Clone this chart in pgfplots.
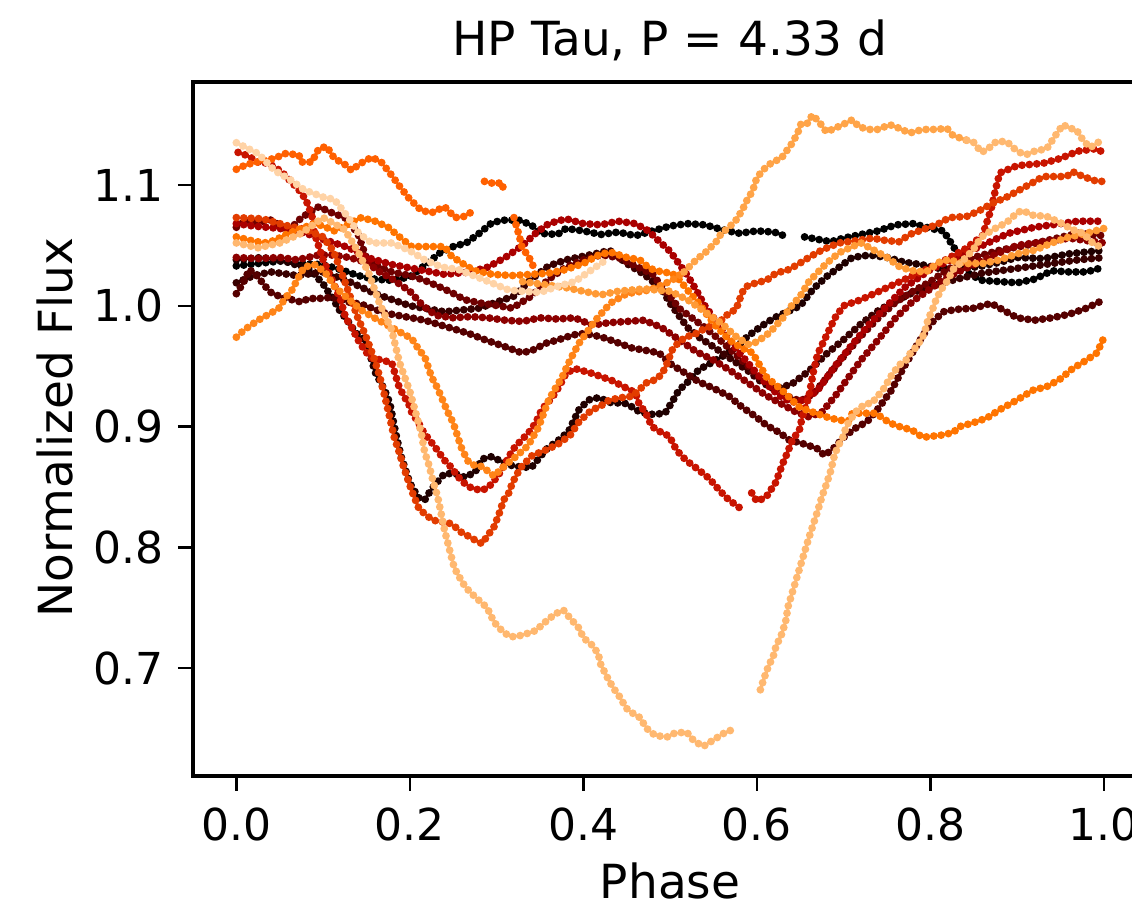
\documentclass[border=0pt]{standalone}
\usepackage{fontspec}
\setmainfont{DejaVu Sans}
\usepackage{pgfplots}
\pgfplotsset{compat=1.18}
\definecolor{k0}{HTML}{000000}
\definecolor{k1}{HTML}{1F0000}
\definecolor{k2}{HTML}{380000}
\definecolor{k3}{HTML}{550000}
\definecolor{k4}{HTML}{6E0000}
\definecolor{k5}{HTML}{8C0000}
\definecolor{k6}{HTML}{AA0000}
\definecolor{k7}{HTML}{C81400}
\definecolor{k8}{HTML}{E23C00}
\definecolor{k9}{HTML}{FF6000}
\definecolor{k10}{HTML}{FF7400}
\definecolor{k11}{HTML}{FF8418}
\definecolor{k12}{HTML}{FF9A35}
\definecolor{k13}{HTML}{FFA448}
\definecolor{k14}{HTML}{FFB870}
\definecolor{k15}{HTML}{FFD3A6}
\pgfplotsset{dots/.style={no marks, line width=3.9pt, line cap=round, dash pattern=on 0pt off 3.7pt}}
\begin{document}
\begin{tikzpicture}
\begin{axis}[
  at={(0,0)}, anchor=south west,
  scale only axis, width=477.15pt, height=347pt,
  xmin=-0.05, xmax=1.05, ymin=0.6106, ymax=1.1853,
  unbounded coords=jump,
  axis line style={line width=1.6pt},
  tick align=outside, xtick pos=left, ytick pos=left,
  major tick length=7.5pt,
  tick style={line width=1.25pt, black},
  xtick={0,0.2,0.4,0.6,0.8,1.0}, xticklabels={0.0,0.2,0.4,0.6,0.8,1.0},
  ytick={0.7,0.8,0.9,1.0,1.1}, yticklabels={0.7,0.8,0.9,1.0,1.1},
  xticklabel style={anchor=north, inner sep=0pt, yshift=-8pt, font=\fontsize{22}{26}\selectfont},
  yticklabel style={anchor=east, inner sep=0pt, xshift=-7pt, font=\fontsize{22}{26}\selectfont},
  title={HP Tau, P = 4.33 d},
  title style={at={(axis description cs:0.5,1.0202)}, anchor=base, inner sep=0pt, font=\fontsize{23.5}{28}\selectfont},
  xlabel={Phase},
  xlabel style={at={(axis description cs:0.5,-0.1760)}, anchor=base, inner sep=0pt, font=\fontsize{23.5}{28}\selectfont},
  ylabel={Normalized Flux},
  ylabel style={at={(axis description cs:-0.1446,0.502)}, anchor=center, inner sep=0pt, font=\fontsize{23.5}{28}\selectfont},
]
% black flat
\addplot[dots, color=k0] coordinates {(0,1.033)(0.025,1.035)(0.05,1.037)(0.075,1.035)(0.1,1.034)(0.12,1.03)(0.14,1.025)(0.16,1.022)(0.18,1.021)(0.2,1.024)(0.22,1.035)(0.235,1.044)(0.25,1.049)(0.265,1.052)(0.28,1.060)(0.295,1.069)(0.31,1.071)(0.325,1.071)(0.34,1.067)(0.35,1.060)(0.37,1.059)(0.38,1.064)(0.4,1.062)(0.42,1.059)(0.44,1.061)(0.46,1.058)(0.48,1.062)(0.5,1.066)(0.52,1.068)(0.54,1.067)(0.56,1.063)(0.58,1.060)(0.6,1.062)(0.62,1.061)(0.635,1.057)(0.645,nan)(0.655,1.057)(0.67,1.055)(0.685,1.053)(0.7,1.056)(0.72,1.059)(0.74,1.062)(0.76,1.067)(0.78,1.068)(0.8,1.064)(0.815,1.062)(0.83,1.045)(0.845,1.026)(0.86,1.021)(0.88,1.020)(0.9,1.019)(0.92,1.022)(0.94,1.029)(0.96,1.028)(0.98,1.028)(1.0,1.032)};
% dip dark
\addplot[dots, color=k1] coordinates {(0,1.038)(0.03,1.040)(0.06,1.036)(0.085,1.030)(0.1,1.018)(0.112,1.005)(0.12,0.995)(0.128,0.988)(0.137,0.978)(0.147,0.972)(0.153,0.962)(0.16,0.945)(0.171,0.930)(0.177,0.919)(0.181,0.904)(0.185,0.890)(0.19,0.875)(0.2,0.853)(0.21,0.841)(0.217,0.839)(0.223,0.846)(0.229,0.852)(0.24,0.861)(0.252,0.861)(0.263,0.858)(0.275,0.862)(0.283,0.873)(0.294,0.875)(0.309,0.870)(0.32,0.867)(0.34,0.866)(0.357,0.881)(0.372,0.889)(0.383,0.896)(0.395,0.914)(0.406,0.922)(0.418,0.924)(0.43,0.920)(0.45,0.919)(0.465,0.912)(0.48,0.910)(0.494,0.911)(0.502,0.920)(0.51,0.930)(0.522,0.938)(0.533,0.947)(0.548,0.953)(0.56,0.958)(0.575,0.965)(0.59,0.975)(0.605,0.983)(0.62,0.990)(0.635,0.995)(0.65,1.000)(0.665,1.014)(0.68,1.024)(0.695,1.032)(0.71,1.040)(0.73,1.042)(0.75,1.040)(0.77,1.036)(0.79,1.034)(0.81,1.031)(0.83,1.030)(0.86,1.033)(0.88,1.036)(0.9,1.040)(0.93,1.039)(0.96,1.043)(1.0,1.046)};
\addplot[dots, color=k2] coordinates {(0,1.019)(0.02,1.025)(0.04,1.028)(0.07,1.025)(0.1,1.028)(0.13,1.020)(0.16,1.010)(0.2,1.000)(0.24,0.995)(0.28,0.998)(0.32,1.008)(0.34,1.022)(0.36,1.033)(0.38,1.038)(0.4,1.041)(0.42,1.044)(0.43,1.046)(0.45,1.035)(0.47,1.026)(0.49,1.014)(0.5,1.002)(0.51,0.992)(0.52,0.982)(0.535,0.973)(0.55,0.966)(0.57,0.956)(0.59,0.946)(0.605,0.937)(0.62,0.931)(0.64,0.935)(0.66,0.946)(0.68,0.960)(0.7,0.972)(0.72,0.985)(0.74,0.996)(0.76,1.004)(0.78,1.011)(0.8,1.016)(0.83,1.022)(0.86,1.027)(0.9,1.031)(0.94,1.035)(0.97,1.038)(1.0,1.040)};
\addplot[dots, color=k3] coordinates {(0,1.010)(0.008,1.019)(0.015,1.030)(0.025,1.024)(0.032,1.017)(0.04,1.011)(0.052,1.007)(0.064,1.005)(0.075,1.003)(0.083,1.006)(0.095,1.006)(0.11,1.007)(0.13,1.003)(0.145,1.001)(0.171,0.994)(0.194,0.991)(0.217,0.988)(0.245,0.982)(0.268,0.977)(0.286,0.972)(0.31,0.966)(0.329,0.961)(0.341,0.963)(0.357,0.969)(0.372,0.972)(0.38,0.974)(0.395,0.977)(0.41,0.976)(0.426,0.973)(0.441,0.969)(0.456,0.965)(0.472,0.963)(0.487,0.961)(0.502,0.951)(0.518,0.944)(0.533,0.937)(0.549,0.932)(0.568,0.925)(0.583,0.916)(0.599,0.908)(0.611,0.901)(0.626,0.895)(0.637,0.889)(0.652,0.886)(0.669,0.882)(0.678,0.876)(0.69,0.883)(0.7,0.891)(0.712,0.898)(0.727,0.904)(0.74,0.915)(0.755,0.930)(0.77,0.950)(0.785,0.968)(0.8,0.985)(0.815,0.995)(0.83,0.997)(0.85,0.998)(0.87,1.002)(0.88,0.998)(0.9,0.990)(0.92,0.988)(0.94,0.990)(0.96,0.993)(0.98,0.998)(1.0,1.005)};
\addplot[dots, color=k4] coordinates {(0,1.065)(0.012,1.071)(0.025,1.069)(0.04,1.071)(0.06,1.062)(0.075,1.073)(0.095,1.082)(0.11,1.077)(0.125,1.073)(0.14,1.060)(0.149,1.041)(0.163,1.033)(0.179,1.028)(0.2,1.025)(0.217,1.021)(0.233,1.016)(0.248,1.011)(0.263,1.005)(0.283,1.002)(0.302,1.000)(0.318,0.998)(0.34,1.008)(0.36,1.022)(0.38,1.032)(0.4,1.038)(0.42,1.042)(0.44,1.040)(0.46,1.033)(0.48,1.026)(0.49,1.016)(0.502,1.006)(0.51,0.998)(0.525,0.990)(0.54,0.982)(0.56,0.970)(0.575,0.960)(0.59,0.950)(0.6,0.942)(0.62,0.932)(0.635,0.925)(0.65,0.921)(0.665,0.927)(0.68,0.940)(0.7,0.958)(0.72,0.975)(0.74,0.990)(0.76,1.003)(0.78,1.012)(0.8,1.020)(0.82,1.030)(0.85,1.040)(0.88,1.046)(0.91,1.050)(0.94,1.055)(0.97,1.060)(1.0,1.058)};
\addplot[dots, color=k5] coordinates {(0,1.040)(0.025,1.039)(0.05,1.040)(0.07,1.038)(0.095,1.042)(0.11,1.042)(0.13,1.040)(0.15,1.036)(0.165,1.028)(0.18,1.022)(0.2,1.012)(0.215,1.000)(0.23,0.992)(0.25,0.990)(0.27,0.991)(0.29,0.990)(0.31,0.988)(0.33,0.987)(0.35,0.990)(0.37,0.989)(0.39,0.990)(0.41,0.984)(0.43,0.986)(0.45,0.987)(0.47,0.988)(0.49,0.982)(0.51,0.972)(0.53,0.962)(0.55,0.955)(0.57,0.946)(0.59,0.936)(0.61,0.926)(0.63,0.918)(0.645,0.912)(0.66,0.908)(0.675,0.912)(0.69,0.925)(0.705,0.940)(0.72,0.955)(0.74,0.972)(0.76,0.990)(0.78,1.004)(0.8,1.014)(0.82,1.024)(0.85,1.034)(0.88,1.044)(0.9,1.050)(0.93,1.053)(0.96,1.056)(1.0,1.052)};
\addplot[dots, color=k6] coordinates {(0,1.068)(0.02,1.066)(0.05,1.064)(0.08,1.060)(0.1,1.055)(0.13,1.048)(0.15,1.040)(0.18,1.034)(0.21,1.030)(0.24,1.026)(0.27,1.028)(0.29,1.032)(0.31,1.040)(0.33,1.050)(0.345,1.060)(0.36,1.068)(0.38,1.072)(0.4,1.068)(0.42,1.067)(0.44,1.070)(0.46,1.068)(0.475,1.062)(0.485,1.055)(0.5,1.045)(0.51,1.035)(0.52,1.025)(0.53,1.013)(0.54,1.000)(0.55,0.990)(0.565,0.975)(0.58,0.961)(0.595,0.948)(0.61,0.936)(0.625,0.926)(0.64,0.920)(0.655,0.922)(0.67,0.930)(0.69,0.950)(0.71,0.968)(0.73,0.985)(0.75,1.000)(0.77,1.015)(0.8,1.030)(0.83,1.040)(0.86,1.050)(0.89,1.060)(0.92,1.065)(0.95,1.068)(0.97,1.070)(1.0,1.070)};
\addplot[dots, color=k7] coordinates {(0.002,1.127)(0.014,1.124)(0.025,1.119)(0.037,1.118)(0.052,1.111)(0.064,1.102)(0.072,1.096)(0.08,1.088)(0.087,1.075)(0.09,1.060)(0.095,1.049)(0.1,1.038)(0.105,1.030)(0.113,1.017)(0.12,1.005)(0.126,0.990)(0.133,0.982)(0.14,0.972)(0.148,0.963)(0.155,0.957)(0.179,0.953)(0.187,0.934)(0.193,0.925)(0.198,0.920)(0.202,0.912)(0.21,0.903)(0.216,0.895)(0.229,0.883)(0.234,0.878)(0.24,0.872)(0.248,0.866)(0.256,0.858)(0.263,0.853)(0.271,0.849)(0.283,0.847)(0.291,0.850)(0.298,0.856)(0.306,0.864)(0.314,0.875)(0.321,0.883)(0.329,0.889)(0.337,0.895)(0.345,0.903)(0.352,0.914)(0.364,0.924)(0.372,0.933)(0.38,0.944)(0.39,0.948)(0.41,0.944)(0.433,0.938)(0.449,0.932)(0.46,0.928)(0.464,0.919)(0.472,0.911)(0.479,0.900)(0.49,0.895)(0.499,0.892)(0.507,0.881)(0.514,0.875)(0.522,0.870)(0.533,0.864)(0.545,0.857)(0.557,0.847)(0.568,0.839)(0.576,0.835)(0.583,0.831)(0.589,nan)(0.594,0.845)(0.6,0.838)(0.606,0.840)(0.611,0.842)(0.622,0.854)(0.629,0.868)(0.635,0.878)(0.641,0.889)(0.649,0.897)(0.652,0.907)(0.66,0.925)(0.665,0.945)(0.67,0.960)(0.68,0.975)(0.69,0.990)(0.70,1.000)(0.72,1.005)(0.75,1.015)(0.78,1.025)(0.81,1.035)(0.84,1.047)(0.86,1.058)(0.87,1.080)(0.875,1.096)(0.88,1.110)(0.9,1.116)(0.93,1.118)(0.95,1.122)(0.97,1.128)(0.99,1.130)(1.0,1.127)};
\addplot[dots, color=k8] coordinates {(0,1.073)(0.03,1.072)(0.06,1.066)(0.08,1.063)(0.1,1.057)(0.112,1.045)(0.12,1.030)(0.13,1.010)(0.14,0.990)(0.148,0.977)(0.158,0.958)(0.165,0.942)(0.17,0.928)(0.176,0.910)(0.182,0.891)(0.188,0.878)(0.193,0.866)(0.202,0.847)(0.211,0.831)(0.217,0.828)(0.225,0.823)(0.234,0.821)(0.243,0.821)(0.252,0.817)(0.26,0.812)(0.268,0.809)(0.275,0.806)(0.283,0.803)(0.289,0.809)(0.297,0.817)(0.303,0.828)(0.308,0.839)(0.314,0.845)(0.318,0.853)(0.323,0.860)(0.329,0.867)(0.341,0.876)(0.355,0.880)(0.37,0.885)(0.385,0.893)(0.395,0.904)(0.41,0.914)(0.418,0.916)(0.43,0.922)(0.445,0.924)(0.456,0.925)(0.464,0.930)(0.472,0.936)(0.484,0.939)(0.491,0.944)(0.497,0.953)(0.502,0.963)(0.51,0.970)(0.518,0.974)(0.53,0.977)(0.542,0.982)(0.553,0.984)(0.568,0.994)(0.576,0.997)(0.583,1.011)(0.588,1.016)(0.599,1.019)(0.611,1.021)(0.622,1.027)(0.637,1.030)(0.649,1.035)(0.66,1.040)(0.672,1.045)(0.684,1.049)(0.695,1.052)(0.715,1.054)(0.733,1.056)(0.749,1.054)(0.764,1.053)(0.776,1.059)(0.791,1.063)(0.807,1.067)(0.822,1.073)(0.842,1.074)(0.857,1.079)(0.872,1.085)(0.888,1.090)(0.903,1.096)(0.918,1.102)(0.93,1.107)(0.957,1.107)(0.964,1.111)(0.976,1.107)(0.992,1.103)(0.999,1.103)};
% top orange
\addplot[dots, color=k9] coordinates {(0,1.113)(0.012,1.117)(0.03,1.120)(0.044,1.122)(0.056,1.126)(0.072,1.125)(0.075,1.119)(0.087,1.119)(0.095,1.130)(0.104,1.132)(0.113,1.122)(0.125,1.117)(0.133,1.112)(0.141,1.117)(0.156,1.123)(0.167,1.119)(0.179,1.108)(0.187,1.100)(0.199,1.089)(0.213,1.079)(0.225,1.077)(0.24,1.082)(0.252,1.073)(0.263,1.074)(0.274,1.079)(0.28,nan)(0.286,1.103)(0.298,1.101)(0.306,1.102)(0.309,1.093)(0.314,nan)(0.32,1.073)(0.326,1.058)(0.329,1.049)(0.339,1.038)(0.345,1.028)};
\addplot[dots, color=k10] coordinates {(0,1.057)(0.017,1.054)(0.032,1.052)(0.044,1.054)(0.06,1.060)(0.075,1.064)(0.09,1.068)(0.1,1.066)(0.113,1.062)(0.13,1.068)(0.144,1.073)(0.16,1.070)(0.175,1.065)(0.188,1.057)(0.202,1.049)(0.225,1.049)(0.24,1.049)(0.248,1.041)(0.265,1.033)(0.275,1.029)(0.295,1.026)(0.318,1.025)(0.34,1.026)(0.36,1.027)(0.38,1.030)(0.4,1.035)(0.42,1.043)(0.433,1.044)(0.45,1.040)(0.465,1.038)(0.476,1.031)(0.49,1.028)(0.502,1.027)(0.51,1.022)(0.52,1.013)(0.533,1.002)(0.541,0.994)(0.553,0.983)(0.568,0.972)(0.58,0.966)(0.595,0.961)(0.611,0.941)(0.629,0.930)(0.649,0.916)(0.668,0.911)(0.684,0.907)(0.698,0.905)(0.706,0.905)(0.71,0.911)(0.737,0.911)(0.753,0.903)(0.764,0.900)(0.779,0.897)(0.791,0.891)(0.814,0.893)(0.826,0.895)(0.834,0.900)(0.849,0.903)(0.865,0.907)(0.88,0.914)(0.9,0.922)(0.918,0.930)(0.934,0.933)(0.949,0.939)(0.964,0.948)(0.98,0.955)(0.992,0.961)(0.999,0.972)};
\addplot[dots, color=k11] coordinates {(0,0.974)(0.009,0.980)(0.025,0.988)(0.04,0.994)(0.049,0.998)(0.056,1.006)(0.064,1.013)(0.072,1.024)(0.078,1.032)(0.09,1.034)(0.102,1.028)(0.113,1.016)(0.13,1.005)(0.145,0.996)(0.159,0.990)(0.179,0.982)(0.194,0.976)(0.202,0.973)(0.211,0.963)(0.217,0.958)(0.225,0.941)(0.231,0.933)(0.236,0.925)(0.24,0.918)(0.245,0.910)(0.25,0.903)(0.255,0.892)(0.259,0.883)(0.263,0.877)(0.268,0.870)(0.277,0.867)(0.283,0.867)(0.297,0.859)(0.31,0.868)(0.322,0.875)(0.336,0.884)(0.348,0.899)(0.36,0.922)(0.368,0.932)(0.375,0.940)(0.38,0.948)(0.386,0.957)(0.395,0.969)(0.403,0.977)(0.414,0.988)(0.426,0.998)(0.433,1.003)(0.45,1.010)(0.476,1.013)(0.49,1.017)(0.502,1.021)(0.516,1.028)};
\addplot[dots, color=k12] coordinates {(0.33,1.020)(0.36,1.017)(0.38,1.015)(0.4,1.012)(0.42,1.009)(0.44,1.012)(0.47,1.014)(0.5,1.012)(0.52,1.005)(0.54,0.995)(0.56,0.985)(0.575,0.975)(0.59,0.968)(0.6,0.970)(0.615,0.978)(0.63,0.990)(0.64,1.000)(0.65,1.008)(0.66,1.020)(0.68,1.035)(0.695,1.044)(0.71,1.049)(0.72,1.052)(0.735,1.046)(0.75,1.040)(0.765,1.032)(0.78,1.029)(0.795,1.028)(0.81,1.036)(0.82,1.038)(0.84,1.035)(0.86,1.035)(0.88,1.038)(0.9,1.043)(0.92,1.046)(0.94,1.052)(0.96,1.057)(0.98,1.060)(1.0,1.064)};
\addplot[dots, color=k13] coordinates {(0.516,1.028)(0.53,1.038)(0.542,1.045)(0.553,1.053)(0.559,1.060)(0.568,1.065)(0.576,1.071)(0.583,1.079)(0.589,1.088)(0.595,1.095)(0.599,1.104)(0.605,1.111)(0.611,1.115)(0.618,1.119)(0.628,1.122)(0.641,1.135)(0.647,1.143)(0.651,1.151)(0.658,1.151)(0.664,1.158)(0.672,1.152)(0.68,1.144)(0.687,1.146)(0.699,1.150)(0.71,1.154)(0.718,1.148)(0.73,1.146)(0.74,1.146)(0.753,1.150)(0.764,1.147)(0.776,1.143)(0.791,1.146)(0.807,1.146)(0.819,1.147)(0.826,1.141)(0.842,1.137)};
\addplot[dots, color=k14] coordinates {(0.842,1.137)(0.849,1.136)(0.859,1.127)(0.868,1.131)(0.876,1.136)(0.888,1.136)(0.895,1.131)(0.903,1.127)(0.91,1.125)(0.92,1.128)(0.934,1.130)(0.946,1.143)(0.953,1.150)(0.96,1.147)(0.968,1.146)(0.976,1.137)(0.984,1.131)(0.995,1.136)};
% peach deep dip
\addplot[dots, color=k14] coordinates {(0,1.052)(0.025,1.048)(0.05,1.052)(0.075,1.060)(0.1,1.073)(0.11,1.069)(0.125,1.063)(0.14,1.045)(0.152,1.028)(0.165,1.002)(0.179,0.980)(0.188,0.953)(0.194,0.941)(0.2,0.929)(0.208,0.908)(0.213,0.895)(0.217,0.879)(0.222,0.868)(0.227,0.854)(0.232,0.842)(0.236,0.828)(0.24,0.814)(0.245,0.800)(0.25,0.786)(0.254,0.779)(0.264,0.767)(0.275,0.759)(0.289,0.750)(0.297,0.738)(0.306,0.731)(0.315,0.726)(0.323,0.726)(0.337,0.729)(0.345,0.731)(0.359,0.740)(0.368,0.745)(0.377,0.748)(0.385,0.741)(0.395,0.733)(0.4,0.725)(0.41,0.719)(0.417,0.712)(0.42,0.703)(0.427,0.693)(0.434,0.684)(0.443,0.675)(0.449,0.667)(0.456,0.663)(0.465,0.659)(0.473,0.650)(0.483,0.644)(0.497,0.643)(0.505,0.646)(0.519,0.647)(0.527,0.640)(0.538,0.635)(0.549,0.640)(0.562,0.646)(0.575,0.650)(0.59,nan)(0.604,0.682)(0.608,0.691)(0.613,0.701)(0.619,0.710)(0.622,0.718)(0.628,0.727)(0.633,0.738)(0.636,0.751)(0.641,0.763)(0.66,0.808)(0.665,0.819)(0.67,0.830)(0.675,0.842)(0.68,0.852)(0.685,0.863)(0.689,0.875)(0.693,0.883)(0.699,0.891)(0.703,0.900)(0.709,0.907)(0.716,0.914)(0.726,0.919)(0.732,0.919)(0.739,0.925)(0.745,0.930)(0.75,0.936)(0.755,0.942)(0.761,0.948)(0.767,0.953)(0.772,0.955)(0.778,0.962)(0.784,0.966)(0.789,0.972)(0.793,0.977)(0.797,0.988)(0.803,0.998)(0.807,1.006)(0.814,1.015)(0.82,1.021)(0.826,1.030)(0.834,1.035)(0.849,1.046)(0.859,1.057)(0.872,1.063)(0.888,1.069)(0.9,1.077)(0.906,1.079)(0.918,1.075)(0.934,1.074)(0.949,1.069)(0.964,1.063)(0.976,1.060)(0.987,1.052)(0.995,1.049)};
% light peach top-left
\addplot[dots, color=k15] coordinates {(0,1.135)(0.025,1.126)(0.044,1.112)(0.063,1.104)(0.078,1.096)(0.1,1.090)(0.113,1.088)(0.129,1.073)(0.141,1.060)(0.156,1.052)(0.179,1.052)(0.199,1.046)(0.217,1.038)(0.237,1.032)(0.256,1.030)(0.294,1.019)(0.314,1.013)(0.33,1.012)(0.35,1.011)(0.37,1.016)(0.39,1.020)(0.41,1.030)(0.426,1.038)};
\end{axis}
\pgfresetboundingbox
\useasboundingbox (-96.5pt,-63.5pt) rectangle (469.5pt,388pt);
\end{tikzpicture}
\end{document}
